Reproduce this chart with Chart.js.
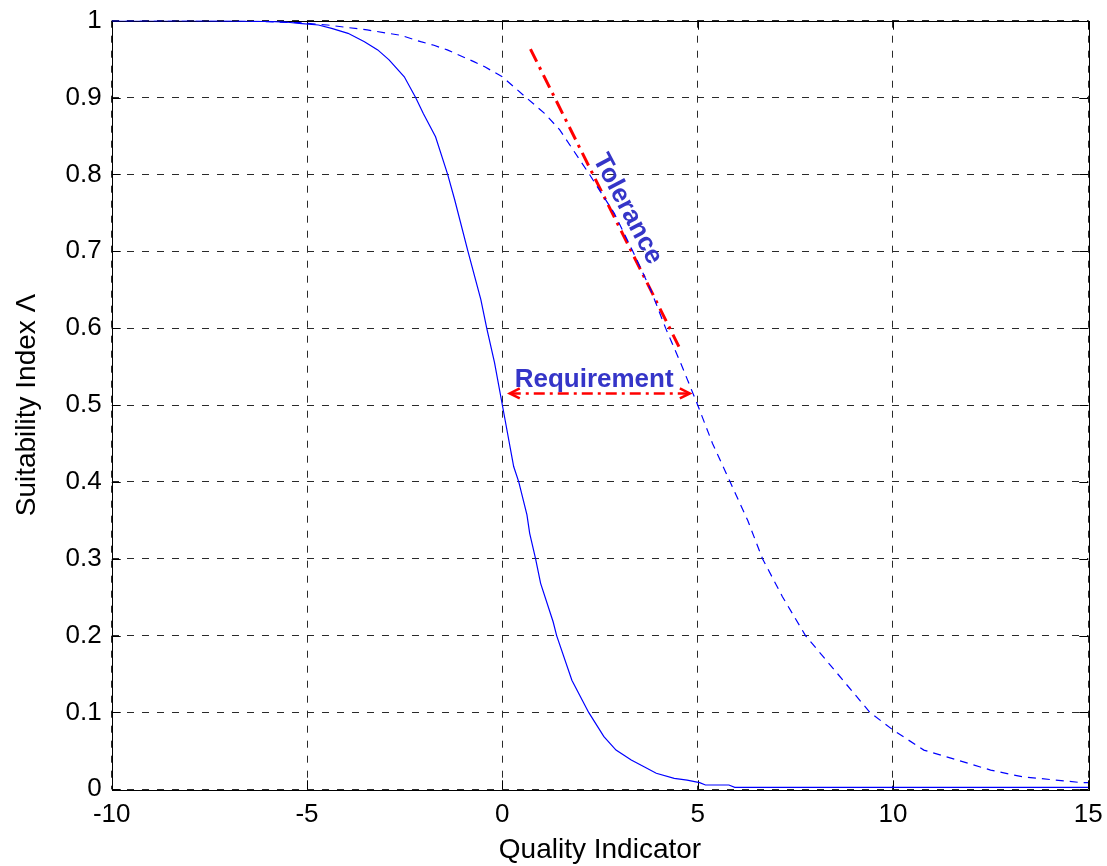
<!DOCTYPE html>
<html>
<head>
<meta charset="utf-8">
<script src="https://cdn.jsdelivr.net/npm/chart.js@4.4.1/dist/chart.umd.min.js"></script>
<style>
  html, body { margin: 0; padding: 0; background: #ffffff; }
  #wrap { width: 1107px; height: 866px; }
</style>
</head>
<body>
<div id="wrap"><canvas id="c" width="1107" height="866"></canvas></div>
<script>
// ---- data ----
const solidX = [-10, -8, -6, -5.5, -5.2, -4.71, -4.37, -3.95, -3.53, -3.19, -2.90, -2.51, -2.22, -2.02, -1.71, -1.40, -1.22, -0.88, -0.55, -0.40, -0.20, 0, 0.29, 0.42, 0.63, 0.70, 0.85, 0.98, 1.30, 1.39, 1.78, 2.21, 2.60, 2.91, 3.30, 3.64, 3.94, 4.40, 4.73, 5.05, 5.2, 5.8, 5.95, 15];
const solidY = [1, 1, 0.999, 0.998, 0.9966, 0.9944, 0.990, 0.9836, 0.9727, 0.962, 0.949, 0.927, 0.9, 0.879, 0.849, 0.8, 0.767, 0.7, 0.637, 0.6, 0.555, 0.5, 0.42, 0.4, 0.357, 0.333, 0.3, 0.268, 0.218, 0.2, 0.142, 0.1, 0.0685, 0.051, 0.038, 0.029, 0.0208, 0.0143, 0.012, 0.0086, 0.0056, 0.0056, 0.0026, 0.0026];

const dashedX = [-10, -6.7, -5.2, -4.48, -3.46, -2.6, -2.09, -1.75, -1.41, -0.73, -0.45, 0, 0.61, 1.08, 1.47, 2.23, 2.87, 3.34, 3.80, 4.18, 4.57, 5.0, 5.38, 5.83, 6.28, 6.66, 7.17, 7.76, 8.57, 9.41, 10.0, 10.79, 11.65, 12.5, 13.3, 14.16, 14.85, 15];
const dashedY = [1, 1, 0.9974, 0.9944, 0.988, 0.981, 0.9727, 0.968, 0.962, 0.9467, 0.940, 0.927, 0.9, 0.8795, 0.858, 0.8, 0.749, 0.7, 0.6496, 0.6, 0.554, 0.5, 0.45, 0.4, 0.35, 0.3, 0.2506, 0.2, 0.151, 0.1, 0.0772, 0.051, 0.038, 0.025, 0.0164, 0.012, 0.0086, 0.0086];

const toleranceX = [0.72, 4.52];
const toleranceY = [0.963, 0.576];

const requirementX = [0.19, 4.80];
const requirementY = [0.515, 0.515];

const xTicks = [-10, -5, 0, 5, 10, 15];
const yTicks = [0, 0.1, 0.2, 0.3, 0.4, 0.5, 0.6, 0.7, 0.8, 0.9, 1];

const xTitle = 'Quality Indicator';
const yTitle = 'Suitability Index \u039B';
const toleranceLabel = { text: 'Tolerance', x: 3.2, y: 0.755 };
const requirementLabel = { text: 'Requirement', x: 2.35, y: 0.524 };
// ----------------------------------------------

const pts = (xs, ys) => xs.map((x, i) => ({ x: x, y: ys[i] }));
const FONT = "'Liberation Sans', Arial, Helvetica, sans-serif";
const BLUE = '#0000ff';
const RED = '#ff0000';
const TXTBLUE = '#3535c8';
const fmt = v => String(+Number(v).toFixed(1));

const frame = {
  id: 'frame',
  beforeDatasetsDraw(chart) {
    const { ctx, chartArea: a, scales } = chart;
    ctx.save();
    ctx.strokeStyle = '#000';
    ctx.lineWidth = 1;
    ctx.setLineDash([]);
    const L = 9;
    ctx.beginPath();
    xTicks.forEach(v => {
      const px = Math.round(scales.x.getPixelForValue(v)) + 0.5;
      ctx.moveTo(px, a.bottom); ctx.lineTo(px, a.bottom - L);
      ctx.moveTo(px, a.top); ctx.lineTo(px, a.top + L);
    });
    yTicks.forEach(v => {
      const py = Math.round(scales.y.getPixelForValue(v)) + 0.5;
      ctx.moveTo(a.left, py); ctx.lineTo(a.left + L, py);
      ctx.moveTo(a.right, py); ctx.lineTo(a.right - L, py);
    });
    ctx.stroke();
    ctx.strokeRect(Math.round(a.left) + 0.5, Math.round(a.top) + 0.5,
                   Math.round(a.right - a.left), Math.round(a.bottom - a.top));
    ctx.restore();
  },
  afterDatasetsDraw(chart) {
    const { ctx, scales } = chart;
    const meta = chart.getDatasetMeta(3);
    const p0 = meta.data[0], p1 = meta.data[meta.data.length - 1];
    ctx.save();
    ctx.strokeStyle = RED;
    ctx.lineWidth = 2.5;
    ctx.setLineDash([]);
    ctx.beginPath();
    ctx.moveTo(p0.x + 10, p0.y - 5); ctx.lineTo(p0.x, p0.y); ctx.lineTo(p0.x + 10, p0.y + 5);
    ctx.moveTo(p1.x - 10, p1.y - 5); ctx.lineTo(p1.x, p1.y); ctx.lineTo(p1.x - 10, p1.y + 5);
    ctx.stroke();
    ctx.fillStyle = TXTBLUE;
    ctx.font = 'bold 26px ' + FONT;
    ctx.textAlign = 'center';
    ctx.textBaseline = 'alphabetic';
    ctx.fillText(requirementLabel.text,
      scales.x.getPixelForValue(requirementLabel.x),
      scales.y.getPixelForValue(requirementLabel.y));
    ctx.translate(scales.x.getPixelForValue(toleranceLabel.x),
                  scales.y.getPixelForValue(toleranceLabel.y));
    ctx.rotate(62 * Math.PI / 180);
    ctx.textBaseline = 'middle';
    ctx.fillText(toleranceLabel.text, 0, 0);
    ctx.restore();
  }
};

new Chart(document.getElementById('c'), {
  type: 'scatter',
  data: {
    datasets: [
      { data: pts(solidX, solidY), showLine: true, borderColor: BLUE, borderWidth: 1.2, pointRadius: 0, tension: 0 },
      { data: pts(dashedX, dashedY), showLine: true, borderColor: BLUE, borderWidth: 1.2, borderDash: [8, 6], pointRadius: 0, tension: 0 },
      { data: pts(toleranceX, toleranceY), showLine: true, borderColor: RED, borderWidth: 3, borderDash: [14, 6, 3, 6], pointRadius: 0 },
      { data: pts(requirementX, requirementY), showLine: true, borderColor: RED, borderWidth: 2.5, borderDash: [11, 5, 3, 5], pointRadius: 0 }
    ]
  },
  options: {
    responsive: false,
    animation: false,
    devicePixelRatio: 1,
    layout: { padding: { top: 20.7, right: 18.7, left: 0, bottom: 0 } },
    plugins: { legend: { display: false }, tooltip: { enabled: false } },
    scales: {
      x: {
        type: 'linear', min: -10, max: 15,
        afterBuildTicks: s => { s.ticks = xTicks.map(v => ({ value: v })); },
        afterFit: s => { s.height = 76.7; s.paddingLeft = 0; s.paddingRight = 0; },
        ticks: { font: { size: 26, family: FONT }, color: '#000', padding: 10, maxRotation: 0, callback: fmt },
        grid: { color: '#2a2a2a', lineWidth: 1, drawTicks: false },
        border: { display: false, dash: [7, 8] },
        title: { display: true, text: xTitle, color: '#000', font: { size: 28, family: FONT, lineHeight: 1 }, padding: { top: 0, bottom: 2 } }
      },
      y: {
        type: 'linear', min: 0, max: 1,
        afterBuildTicks: s => { s.ticks = yTicks.map(v => ({ value: v })); },
        afterFit: s => { s.width = 111.7; s.paddingTop = 0; s.paddingBottom = 0; },
        ticks: { font: { size: 26, family: FONT }, color: '#000', padding: 10, callback: fmt },
        grid: { color: '#2a2a2a', lineWidth: 1, drawTicks: false },
        border: { display: false, dash: [7, 8] },
        title: { display: true, text: yTitle, color: '#000', font: { size: 28, family: FONT, lineHeight: 1 }, padding: { top: 13, bottom: 0 } }
      }
    }
  },
  plugins: [frame]
});
</script>
</body>
</html>
